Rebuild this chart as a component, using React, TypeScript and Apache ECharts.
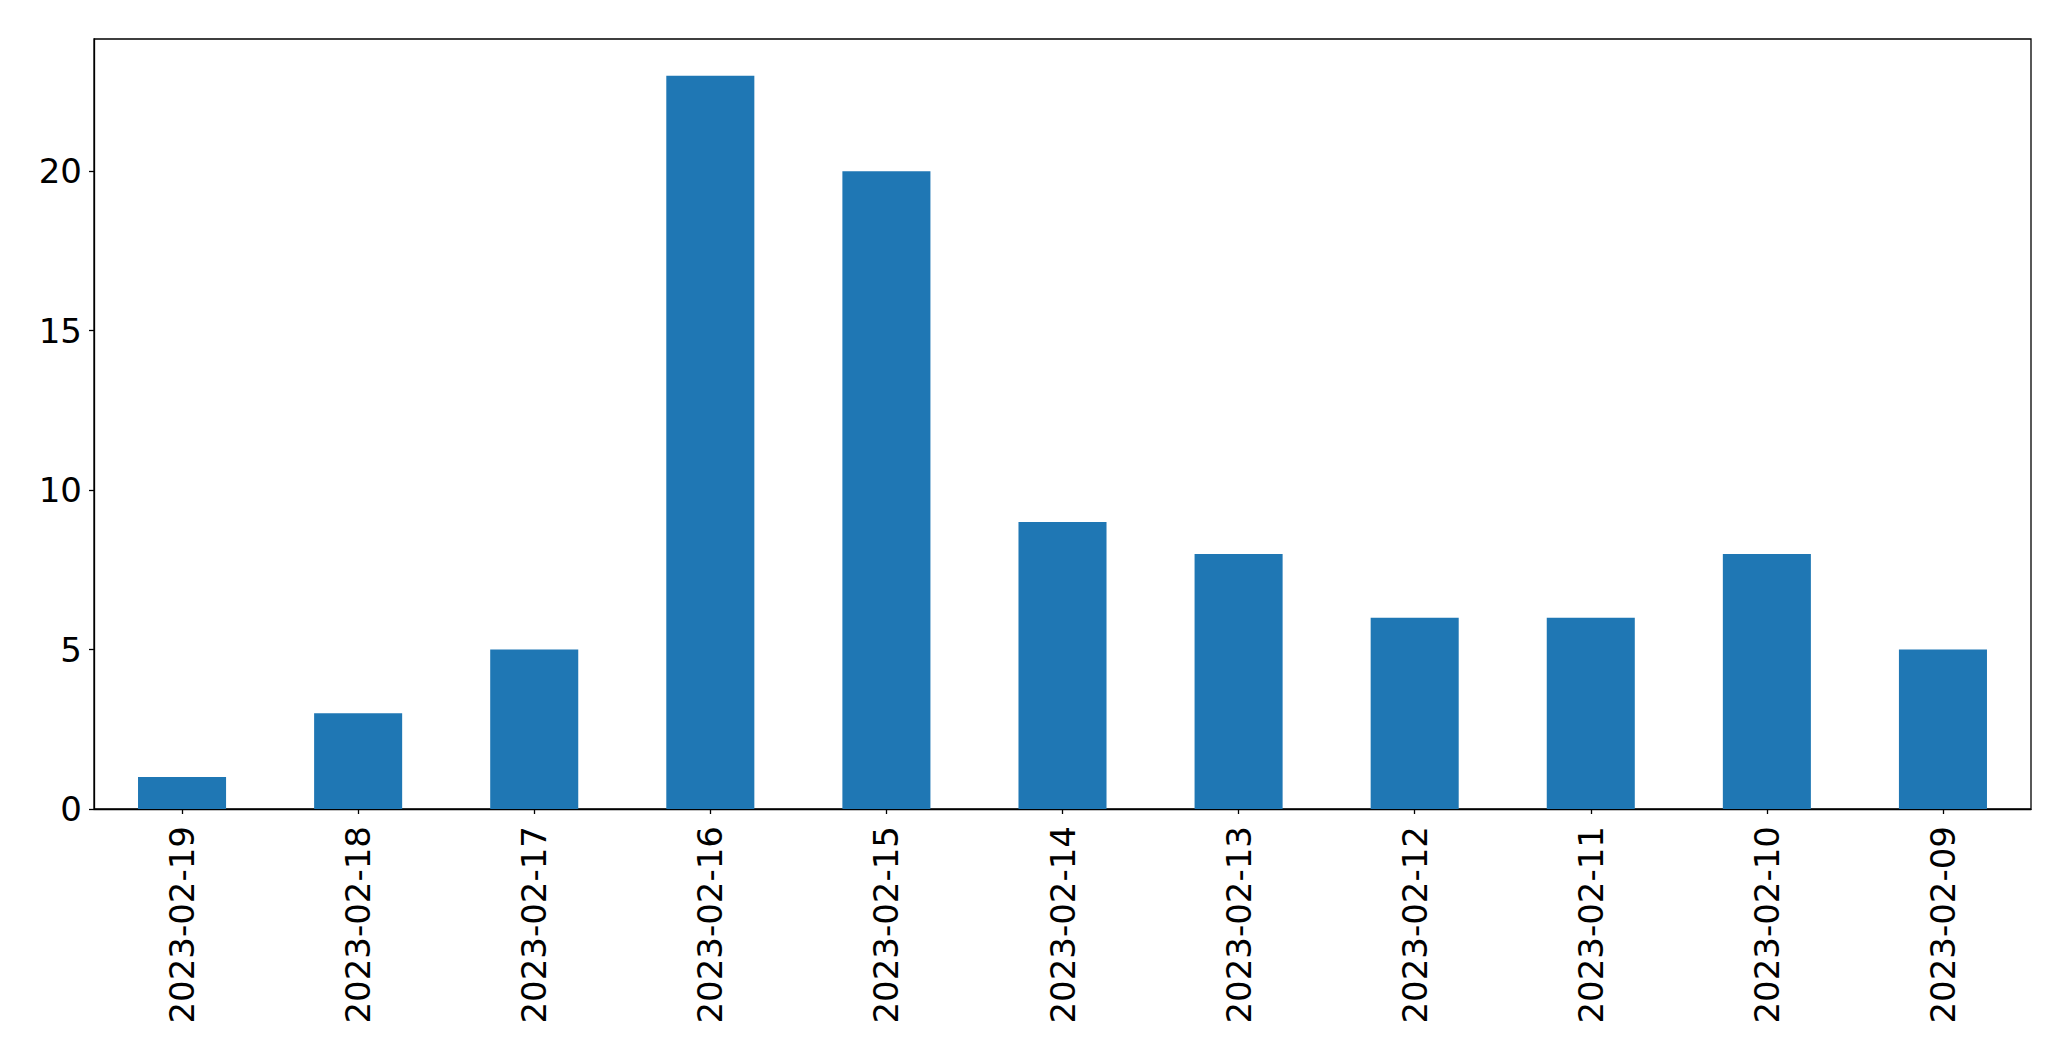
import React, { useEffect, useRef } from "react";
import * as echarts from "echarts";

const categories = [
  "2023-02-19",
  "2023-02-18",
  "2023-02-17",
  "2023-02-16",
  "2023-02-15",
  "2023-02-14",
  "2023-02-13",
  "2023-02-12",
  "2023-02-11",
  "2023-02-10",
  "2023-02-09",
];
const counts = [1, 3, 5, 23, 20, 9, 8, 6, 6, 8, 5];
const yTicks = [0, 5, 10, 15, 20];
const yMax = 24.15;

export default function App() {
  const ref = useRef<HTMLDivElement>(null);
  useEffect(() => {
    if (!ref.current) return;
    const chart = echarts.init(ref.current, null, { renderer: "svg" });
    const font = "DejaVu Sans";
    chart.setOption({
      animation: false,
      backgroundColor: "#ffffff",
      grid: {
        left: 94,
        top: 39,
        width: 1937,
        height: 770,
        show: true,
        borderColor: "#000000",
        borderWidth: 1.3,
        backgroundColor: "transparent",
      },
      xAxis: {
        type: "category",
        data: categories,
        boundaryGap: true,
        axisLine: { show: true, lineStyle: { color: "#000000", width: 1.3 } },
        axisTick: {
          show: true,
          alignWithLabel: true,
          length: 5,
          lineStyle: { color: "#000000", width: 1.3 },
        },
        axisLabel: {
          rotate: 90,
          margin: 17,
          color: "#000000",
          fontFamily: font,
          fontSize: 34,
          interval: 0,
        },
        splitLine: { show: false },
      },
      yAxis: {
        type: "value",
        min: 0,
        max: yMax,
        interval: 5,
        axisLine: { show: true, lineStyle: { color: "#000000", width: 1.3 } },
        axisTick: {
          show: true,
          length: 5,
          customValues: yTicks,
          lineStyle: { color: "#000000", width: 1.3 },
        },
        axisLabel: {
          margin: 12,
          color: "#000000",
          fontFamily: font,
          fontSize: 34,
          customValues: yTicks,
        },
        splitLine: { show: false },
      },
      series: [
        {
          type: "bar",
          data: counts,
          barWidth: "50%",
          itemStyle: { color: "#1f77b4" },
        },
      ],
    });
    return () => chart.dispose();
  }, []);
  return (
    <div
      ref={ref}
      style={{ position: "fixed", left: 0, top: 0, width: 2071, height: 1061 }}
    />
  );
}
